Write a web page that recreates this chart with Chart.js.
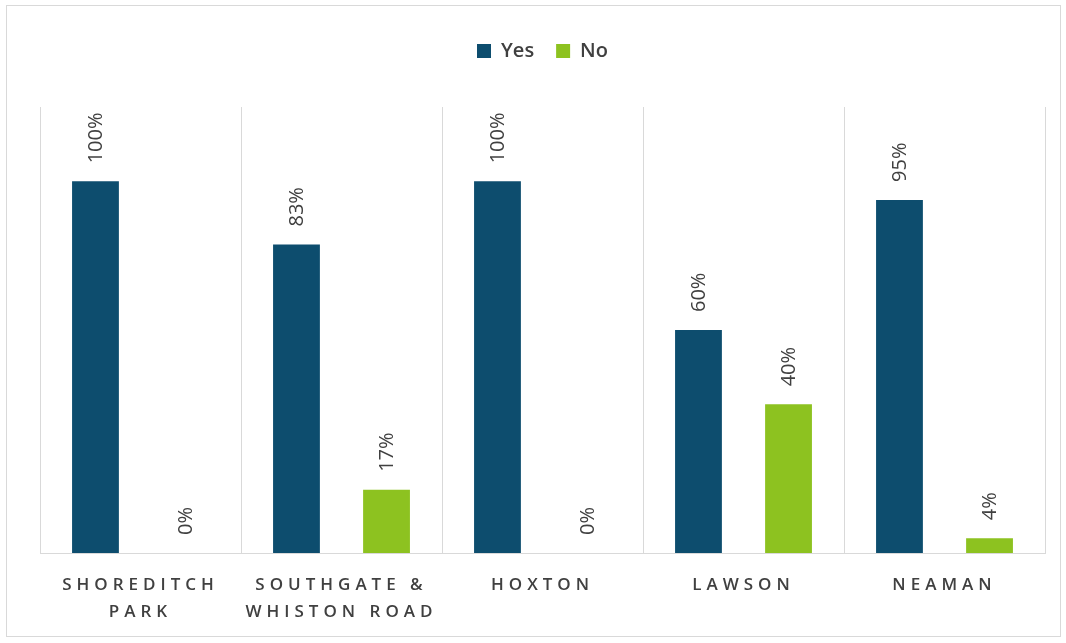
<!DOCTYPE html>
<html>
<head>
<meta charset="utf-8">
<script src="https://cdn.jsdelivr.net/npm/chart.js@4/dist/chart.umd.min.js"></script>
<style>
  html, body { margin: 0; padding: 0; background: #ffffff; }
  #frame { position: absolute; left: 6px; top: 5px; width: 1053px; height: 630px; border: 1px solid #d9d9d9; background: #fff; }
  canvas { display: block; }
</style>
</head>
<body>
<div id="frame"><canvas id="chart" width="1053" height="630"></canvas></div>
<script>
// Survey sites and share of answers (%)
const categories = [['SHOREDITCH', 'PARK'], ['SOUTHGATE &', 'WHISTON ROAD'], ['HOXTON'], ['LAWSON'], ['NEAMAN']];
const yesValues = [100, 83, 100, 60, 95];
const noValues = [0, 17, 0, 40, 4];
const seriesNames = ['Yes', 'No'];
const yMax = 120;

const TEXT = '#404040';
const GRID = '#d9d9d9';

// Rotated value labels above each bar
const valueLabels = {
  id: 'valueLabels',
  afterDatasetsDraw(chart) {
    const ctx = chart.ctx;
    ctx.save();
    ctx.font = '400 20px "Open Sans"';
    ctx.fillStyle = TEXT;
    ctx.textAlign = 'left';
    ctx.textBaseline = 'middle';
    chart.data.datasets.forEach((ds, i) => {
      chart.getDatasetMeta(i).data.forEach((bar, j) => {
        ctx.save();
        ctx.translate(bar.x + 1, bar.y - 18);
        ctx.rotate(-Math.PI / 2);
        ctx.fillText(ds.data[j] + '%', 0, 0);
        ctx.restore();
      });
    });
    ctx.restore();
  }
};

// Spaced-out capitals for the category axis, and a taller legend band
const layoutTweaks = {
  id: 'layoutTweaks',
  afterInit(chart) {
    const lg = chart.legend;
    if (lg && !lg._tall) {
      const fit = lg.fit;
      lg.fit = function () {
        fit.call(this);
        this.height = 88;
      };
      lg._tall = true;
    }
  },
  beforeDraw(chart) {
    const s = chart.scales.x;
    if (s && !s._spaced) {
      const orig = s.drawLabels;
      s.drawLabels = function (area) {
        const c = this.ctx;
        c.save();
        c.letterSpacing = '5px';
        orig.call(this, area);
        c.restore();
      };
      s._spaced = true;
    }
  }
};

new Chart(document.getElementById('chart'), {
  type: 'bar',
  data: {
    labels: categories,
    datasets: [
      { label: seriesNames[0], data: yesValues, backgroundColor: '#0d4d6e', categoryPercentage: 0.896, barPercentage: 0.52 },
      { label: seriesNames[1], data: noValues, backgroundColor: '#8dc220', categoryPercentage: 0.896, barPercentage: 0.52 }
    ]
  },
  options: {
    responsive: false,
    animation: false,
    layout: { padding: { left: 33, right: 15, top: 13, bottom: 10 } },
    plugins: {
      legend: {
        position: 'top',
        labels: {
          boxWidth: 14, boxHeight: 14, padding: 22,
          color: TEXT,
          font: { family: 'Open Sans', size: 20, weight: '600' }
        }
      },
      tooltip: { enabled: false }
    },
    scales: {
      x: {
        grid: { display: true, offset: true, color: GRID, lineWidth: 1, drawTicks: false },
        border: { display: true, color: GRID },
        ticks: {
          color: TEXT, padding: 19, maxRotation: 0, autoSkip: false,
          font: { family: 'Open Sans', size: 17, weight: '600', lineHeight: 1.59 }
        },
        afterFit(scale) { scale.height = 73; }
      },
      y: {
        display: false,
        min: 0, max: yMax,
        grid: { display: false }
      }
    }
  },
  plugins: [valueLabels, layoutTweaks]
});
</script>
</body>
</html>
